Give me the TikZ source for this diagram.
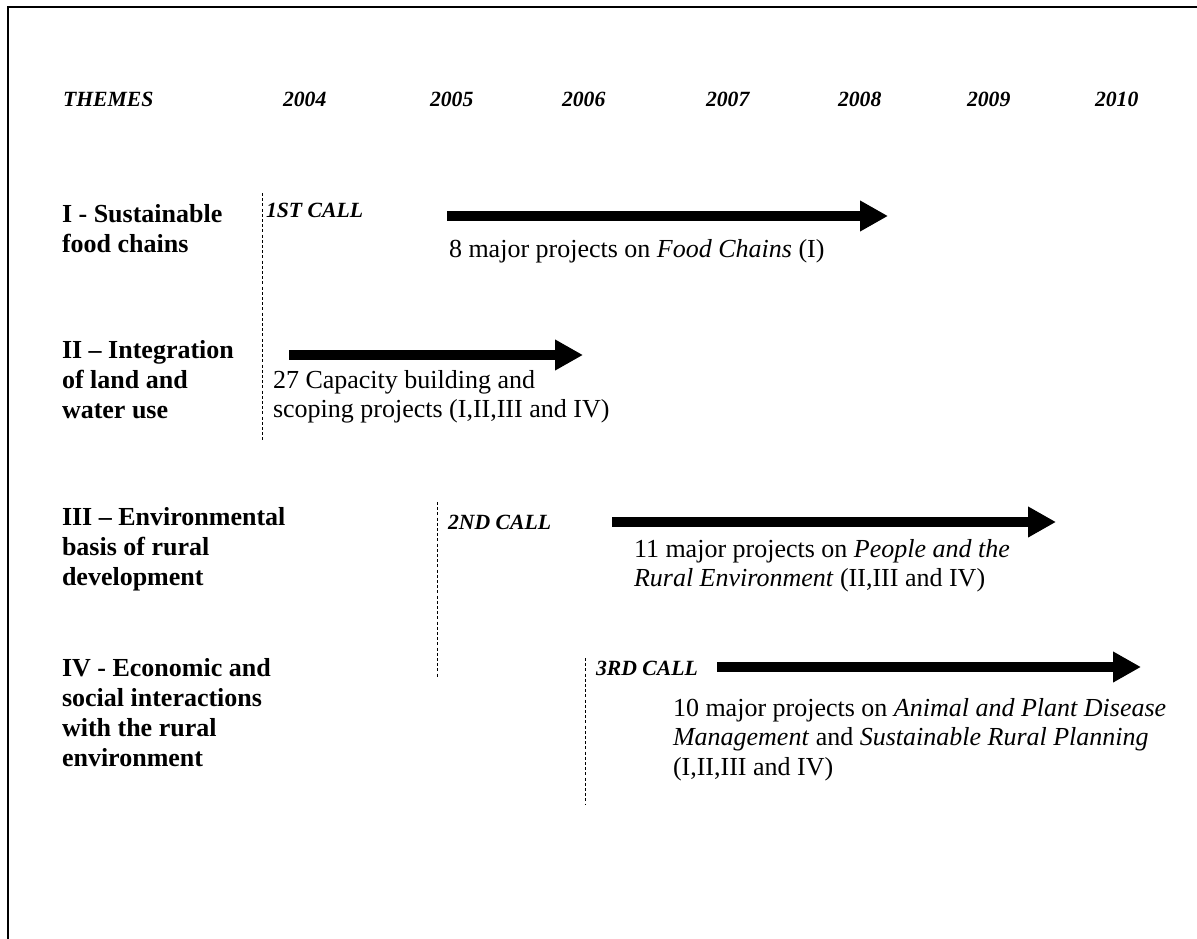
\documentclass[tikz,border=0pt]{standalone}
\usepackage{fontspec}
\setmainfont{Liberation Serif}
\usetikzlibrary{arrows.meta}
\begin{document}
\begin{tikzpicture}[x=1pt,y=-1pt,
  every node/.style={inner sep=0pt,outer sep=0pt,anchor=base west,align=left},
  header/.style={font=\fontsize{21.7}{26}\selectfont\bfseries\itshape},
  theme/.style={font=\fontsize{26}{30}\selectfont\bfseries},
  calllabel/.style={font=\fontsize{21.7}{26}\selectfont\bfseries\itshape},
  body/.style={font=\fontsize{26}{29.5}\selectfont},
  callline/.style={line width=0.9pt,dash pattern=on 3pt off 2.2pt},
  bar/.style={line width=10pt,-{Triangle[length=28pt,width=29pt]}},
  frame/.style={line width=2pt}]
\useasboundingbox (0,0) rectangle (1197,939);
\fill[white] (0,0) rectangle (1197,939);

% frame (open on the right and at the bottom)
\coordinate (fb) at (7.5,939);
\coordinate (fc) at (7.5,7.5);
\coordinate (fr) at (1197,7.5);
\draw[frame] (fb) -- (fc) -- (fr);

% header row
\node[header] (hth) at (63,107) {THEMES};
\node[header] (h04) at (283,107) {2004};
\node[header] (h05) at (430,107) {2005};
\node[header] (h06) at (562,107) {2006};
\node[header] (h07) at (706,107) {2007};
\node[header] (h08) at (838,107) {2008};
\node[header] (h09) at (967,107) {2009};
\node[header] (h10) at (1095,107) {2010};

% themes (placed by the baseline of their last line)
\node[theme] (t1) at (62,252) {I - Sustainable\\food chains};
\node[theme] (t2) at (62,418) {II – Integration\\of land and\\water use};
\node[theme] (t3) at (62,585) {III – Environmental\\basis of rural\\development};
\node[theme] (t4) at (62,766) {IV - Economic and\\social interactions\\with the rural\\environment};

% calls
\coordinate (c1t) at (262,193);
\coordinate (c1b) at (262,440);
\draw[callline] (c1t) -- (c1b);
\node[calllabel] (c1) at (266,217) {1ST CALL};

\coordinate (c2t) at (437,502);
\coordinate (c2b) at (437,678);
\draw[callline] (c2t) -- (c2b);
\node[calllabel] (c2) at (448,529) {2ND CALL};

\coordinate (c3t) at (585,658);
\coordinate (c3b) at (585,805);
\draw[callline] (c3t) -- (c3b);
\node[calllabel] (c3) at (596,675) {3RD CALL};

% project bars
\coordinate (b1s) at (447,216);
\coordinate (b1e) at (888,216);
\draw[bar] (b1s) -- (b1e);
\node[body] (p1) at (449,257) {8 major projects on \textit{Food Chains} (I)};

\coordinate (b2s) at (289,355);
\coordinate (b2e) at (583,355);
\draw[bar] (b2s) -- (b2e);
\node[body] (p2) at (273,417.5) {27 Capacity building and\\scoping projects (I,II,III and IV)};

\coordinate (b3s) at (612,522);
\coordinate (b3e) at (1056,522);
\draw[bar] (b3s) -- (b3e);
\node[body] (p3) at (634,586.5) {11 major projects on \textit{People and the}\\\textit{Rural Environment} (II,III and IV)};

\coordinate (b4s) at (717,667);
\coordinate (b4e) at (1141,667);
\draw[bar] (b4s) -- (b4e);
\node[body] (p4) at (673,775) {10 major projects on \textit{Animal and Plant Disease}\\\textit{Management} and \textit{Sustainable Rural Planning}\\(I,II,III and IV)};
\end{tikzpicture}
\end{document}
